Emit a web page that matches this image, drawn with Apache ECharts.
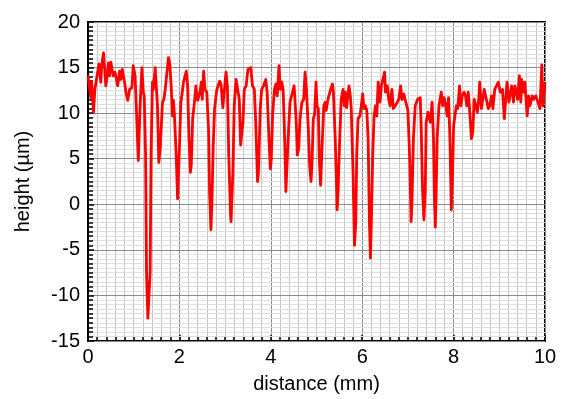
<!DOCTYPE html>
<html>
<head>
<meta charset="utf-8">
<script src="https://cdn.jsdelivr.net/npm/echarts@6/dist/echarts.min.js"></script>
<style>
  html, body { margin: 0; padding: 0; background: #fff; }
  #chart { width: 565px; height: 399px; }
</style>
</head>
<body>
<div id="chart"></div>
<script>
// profile: distance in mm, height in µm
const distance = [
  0, 0.06, 0.08, 0.12, 0.15, 0.19, 0.24, 0.28, 0.30, 0.34, 0.39, 0.41, 0.45, 0.47, 0.50, 0.55, 0.59, 0.65, 0.69, 0.72,
  0.75, 0.80, 0.83, 0.87, 0.91, 0.96, 0.99, 1.03, 1.07, 1.10, 1.12, 1.14, 1.18, 1.21, 1.23, 1.26, 1.28, 1.31, 1.33, 1.36,
  1.38, 1.41, 1.43, 1.47, 1.49, 1.52, 1.55, 1.58, 1.63, 1.66, 1.69, 1.72, 1.76, 1.79, 1.82, 1.85, 1.87, 1.89, 1.93, 1.96,
  1.97, 2.00, 2.03, 2.05, 2.09, 2.12, 2.15, 2.18, 2.21, 2.24, 2.26, 2.29, 2.33, 2.36, 2.40, 2.45, 2.48, 2.50, 2.53, 2.56,
  2.60, 2.64, 2.66, 2.69, 2.71, 2.74, 2.77, 2.82, 2.88, 2.91, 2.95, 2.99, 3.02, 3.05, 3.08, 3.12, 3.13, 3.17, 3.20, 3.24,
  3.27, 3.31, 3.34, 3.35, 3.39, 3.42, 3.46, 3.50, 3.53, 3.56, 3.60, 3.64, 3.67, 3.71, 3.73, 3.77, 3.80, 3.84, 3.89, 3.92,
  3.96, 3.99, 4.01, 4.04, 4.08, 4.11, 4.14, 4.18, 4.21, 4.24, 4.27, 4.30, 4.33, 4.35, 4.38, 4.42, 4.46, 4.51, 4.53, 4.56,
  4.58, 4.61, 4.64, 4.68, 4.72, 4.75, 4.78, 4.82, 4.85, 4.88, 4.90, 4.93, 4.96, 4.99,
  5.01, 5.04, 5.06, 5.09, 5.10, 5.12, 5.16, 5.19, 5.21, 5.25, 5.28, 5.31, 5.35, 5.37, 5.41, 5.44, 5.45, 5.47, 5.50, 5.54,
  5.58, 5.61, 5.63, 5.66, 5.71, 5.74, 5.76, 5.80, 5.83, 5.86, 5.88, 5.91, 5.95, 5.98, 6.01, 6.04, 6.07, 6.10, 6.13, 6.16,
  6.18, 6.20, 6.23, 6.26, 6.29, 6.32, 6.35, 6.39, 6.42, 6.49, 6.51, 6.55, 6.58, 6.61, 6.65, 6.68, 6.72, 6.77, 6.80, 6.84,
  6.87, 6.91, 6.94, 7.00, 7.04, 7.07, 7.09, 7.12, 7.16, 7.21, 7.27, 7.29, 7.32, 7.35, 7.38, 7.40, 7.44, 7.46, 7.49, 7.53,
  7.56, 7.58, 7.60, 7.62, 7.64, 7.68, 7.70, 7.73, 7.76, 7.79, 7.83, 7.86, 7.89, 7.92, 7.95, 7.97, 8.00, 8.03, 8.06, 8.09,
  8.13, 8.16, 8.19, 8.23, 8.26, 8.29, 8.32, 8.36, 8.39, 8.42, 8.45, 8.49, 8.52, 8.55, 8.57, 8.61, 8.67, 8.71, 8.76, 8.79,
  8.83, 8.86, 8.90, 8.98, 9.02, 9.07, 9.11, 9.14, 9.17, 9.21, 9.27, 9.31, 9.34, 9.38, 9.40, 9.44, 9.47, 9.49, 9.53, 9.56,
  9.61, 9.64, 9.67, 9.72, 9.75, 9.80, 9.84, 9.89, 9.93, 9.96, 10.00
];
const height = [
  14.1, 11.7, 13.4, 10.1, 12.6, 12.8, 15.4, 13.4, 15.2, 16.6, 13.0, 13.7, 15.5, 14.1, 15.6, 14.1, 14.5, 13.0, 14.6, 13.7,
  14.8, 13.4, 12.3, 11.4, 12.6, 12.8, 15.2, 14.1, 9.0, 4.8, 4.8, 10.8, 15.0, 12.3, 11.9, 5.4, -7.4, -12.5, -12.6, -7.4,
  5.4, 13.4, 12.6, 15.0, 15.2, 10.8, 4.6, 6.1, 11.2, 11.5, 12.6, 14.1, 16.1, 15.4, 13.0, 9.7, 11.4, 9.9, 5.4, 0.6,
  0.6, 6.1, 11.0, 11.2, 13.4, 13.5, 14.6, 13.0, 7.2, 3.5, 4.3, 9.4, 11.2, 13.0, 11.4, 12.3, 13.4, 11.5, 14.6, 12.6,
  12.3, 7.9, 1.4, -2.8, -0.1, 6.5, 10.5, 12.6, 13.5, 13.2, 10.6, 10.5, 14.5, 13.0, 5.4, -1.2, -1.9, 3.5, 10.8, 13.7,
  13.7, 11.5, 6.5, 6.3, 9.0, 12.6, 13.0, 14.8, 14.6, 15.0, 13.0, 12.6, 9.0, 2.5, 3.5, 10.5, 12.6, 13.0, 13.7, 12.3,
  7.2, 3.9, 4.8, 9.9, 12.6, 13.2, 11.9, 15.2, 12.6, 13.4, 12.6, 7.9, 1.4, 1.4, 7.2, 11.2, 11.2, 13.0, 11.4, 8.6,
  5.4, 6.1, 9.4, 11.2, 11.5, 14.5, 12.6, 8.3, 4.3, 2.5, 4.3, 9.4, 9.9, 13.4,
  10.8, 10.5, 5.0, 2.1, 2.1, 6.1, 10.8, 11.2, 10.3, 11.5, 11.5, 12.6, 13.2, 12.3, 7.2, 1.7, -0.6, 1.0, 6.1, 11.5,
  12.6, 10.8, 12.3, 10.6, 13.0, 11.9, 10.5, 3.5, -4.5, -2.0, 5.4, 9.4, 9.7, 10.8, 12.1, 10.5, 10.8, 10.3, 7.2, -2.3,
  -5.9, -2.0, 5.4, 9.7, 10.8, 9.7, 13.4, 11.2, 13.0, 14.5, 12.3, 13.0, 11.5, 10.8, 12.6, 10.5, 10.8, 11.2, 11.5, 13.0,
  11.5, 12.1, 11.5, 10.3, 5.0, -1.9, 0.3, 7.2, 10.8, 11.5, 11.7, 8.6, 1.7, -1.7, 1.7, 9.0, 10.1, 9.7, 9.0, 11.2,
  7.2, 0.6, -2.5, 1.7, 7.2, 10.8, 11.4, 12.3, 10.8, 11.7, 10.8, 9.7, 11.7, 7.2, -0.6, 2.1, 8.6, 9.7, 10.8, 10.5,
  13.0, 10.8, 11.9, 12.3, 11.9, 10.8, 12.3, 9.7, 7.2, 7.9, 11.5, 10.8, 10.1, 11.5, 13.4, 10.5, 12.6, 12.6, 10.5, 10.8,
  11.9, 10.5, 12.6, 13.4, 12.3, 12.6, 9.4, 11.5, 13.4, 11.2, 13.0, 11.2, 13.0, 12.3, 11.5, 14.1, 11.2, 13.7, 12.3, 13.4,
  9.7, 11.9, 10.8, 11.9, 11.5, 11.9, 11.7, 10.5, 15.3, 10.8, 13.4
];
const xTicks = { min: 0, max: 10, step: 2 };
const yTicks = { min: -15, max: 20, step: 5 };

const profile = distance.map((d, i) => [d, height[i]]);

const FONT = 'Liberation Sans, Arial, sans-serif';
const chart = echarts.init(document.getElementById('chart'), null, { renderer: 'canvas' });

chart.setOption({
  animation: false,
  backgroundColor: '#fff',
  grid: {
    left: 88, right: 20, top: 22, bottom: 55,
    show: true, borderColor: '#000', borderWidth: 2, backgroundColor: 'transparent'
  },
  xAxis: {
    type: 'value',
    min: xTicks.min, max: xTicks.max, interval: xTicks.step,
    name: 'distance (mm)', nameLocation: 'middle', nameGap: 33,
    nameTextStyle: { fontFamily: FONT, fontSize: 20, color: '#000' },
    axisLine: { onZero: false, lineStyle: { color: '#000', width: 2 } },
    axisTick: { inside: true, length: 6, lineStyle: { color: '#000', width: 1.5 } },
    minorTick: { show: true, splitNumber: 10, length: 4, lineStyle: { color: '#000', width: 1.5 } },
    axisLabel: { fontFamily: FONT, fontSize: 20, color: '#000', margin: 6 },
    splitLine: { show: true, lineStyle: { color: '#8a8a8a', width: 1 } },
    minorSplitLine: { show: true, lineStyle: { color: '#c4c4c4', width: 1 } }
  },
  yAxis: [{
    type: 'value',
    min: yTicks.min, max: yTicks.max, interval: yTicks.step,
    z: 1,
    name: 'height (µm)', nameLocation: 'middle', nameGap: 55, nameRotate: 90,
    nameTextStyle: { fontFamily: FONT, fontSize: 20, color: '#000' },
    axisLine: { onZero: false, lineStyle: { color: '#000', width: 2 } },
    axisTick: { inside: true, length: 6, lineStyle: { color: '#000', width: 1.5 } },
    minorTick: { show: true, splitNumber: 10, length: 5, lineStyle: { color: '#000', width: 1.5 } },
    axisLabel: { fontFamily: FONT, fontSize: 20, color: '#000', margin: 8 },
    splitLine: { show: true, lineStyle: { color: '#8a8a8a', width: 1 } },
    minorSplitLine: { show: true, lineStyle: { color: '#dedede', width: 1 } }
  }, {
    // only for the darker lines at whole µm
    type: 'value', position: 'right',
    min: yTicks.min, max: yTicks.max, interval: 1,
    z: 0,
    axisLine: { show: false }, axisTick: { show: false }, axisLabel: { show: false },
    splitLine: { show: true, lineStyle: { color: '#c2c2c2', width: 1 } }
  }],
  series: [{
    type: 'line',
    data: profile,
    showSymbol: false,
    z: 3,
    lineStyle: { color: '#ff0000', width: 2.8, join: 'round' }
  }]
});
</script>
</body>
</html>
